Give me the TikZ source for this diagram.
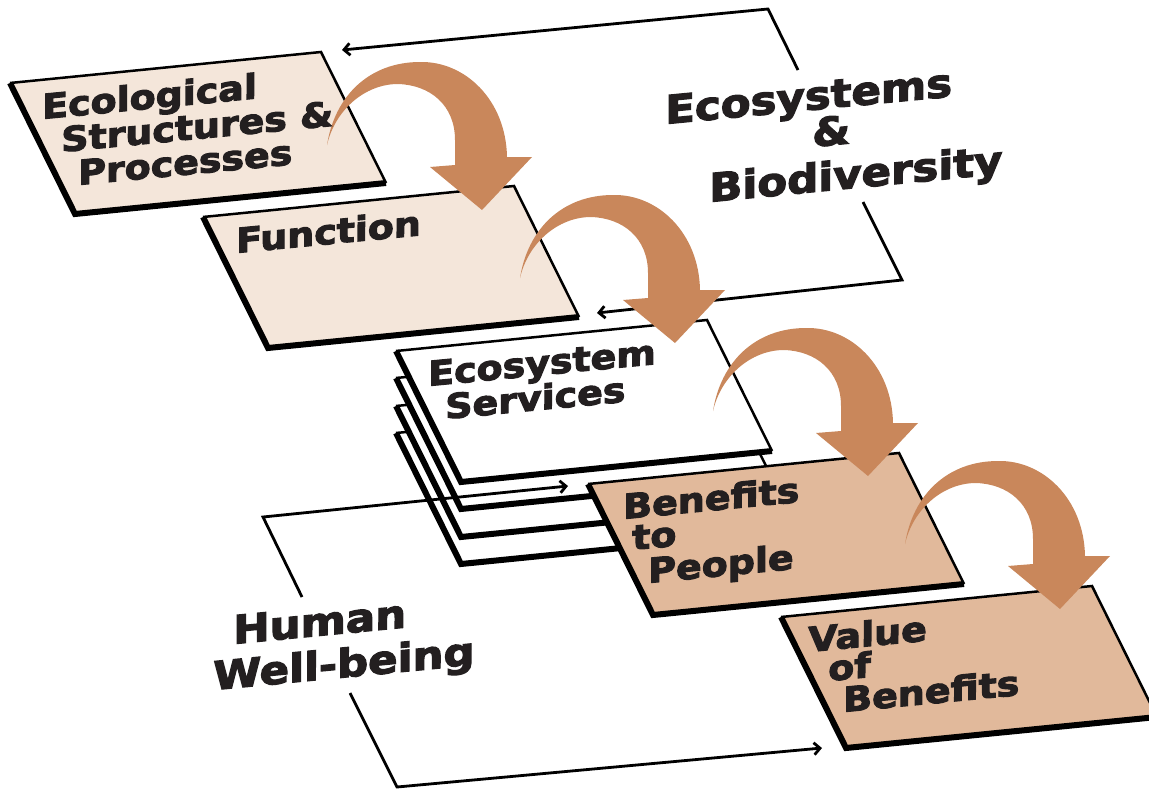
\documentclass[tikz,border=0pt]{standalone}
\usepackage{fontspec}
\setmainfont{DejaVu Sans}[BoldFeatures={FakeBold=3}]
\usetikzlibrary{arrows.meta}
\definecolor{lightfill}{HTML}{F4E6DA}
\definecolor{tanfill}{HTML}{E1B99B}
\definecolor{arrowc}{HTML}{C9875B}
\definecolor{ink}{HTML}{231F20}
\tikzset{
  boxtxt/.style={font=\bfseries\fontsize{34}{34}\selectfont, text=ink, inner sep=0pt,
    anchor=base west, rotate=5.5, xslant=0.1, xscale=1.12},
  bigtxt/.style={boxtxt, font=\bfseries\fontsize{39}{39}\selectfont},
  frameline/.style={line width=2.8pt, -{Straight Barb[length=6pt,width=12pt]}},
  pics/pbox/.style={code={
    \fill[#1] (0,0) -- (311,-31) -- (376,100) -- (65,131) -- cycle;
    \draw[line width=2.5pt] (0,0) -- (311,-31) -- (376,100);
    \draw[line width=6pt] (0,0) -- (65,131) -- (376,100);
  }},
  pics/bend/.style={code={
    \fill[arrowc] (0,0) .. controls (8,-50) and (43,-83) .. (93,-83)
      .. controls (138,-84) and (179,-45) .. (180,12) -- (205,12) -- (155,65)
      -- (103,22) -- (128,20) -- (128,-5) .. controls (128,-40) and (103,-60) .. (71,-61)
      .. controls (38,-61) and (8,-35) .. (0,0) -- cycle;
  }}
}
\begin{document}
\begin{tikzpicture}[x=1pt,y=-1pt,line join=miter]
\useasboundingbox (0,0) rectangle (1149,790);
% boxes 1-2
\pic at (10,83) {pbox=lightfill};
\pic at (203,217) {pbox=lightfill};
% stacked ecosystem services layers
\pic at (396,433) {pbox=white};
\pic at (396,406) {pbox=white};
\pic at (396,378) {pbox=white};
\pic at (396,351) {pbox=white};
% frames
\coordinate (eb1) at (798,70);
\coordinate (ebc1) at (768,9);
\coordinate (ebe1) at (342,50);
\coordinate (eb2) at (863,202);
\coordinate (ebc2) at (902,280);
\coordinate (ebe2) at (597,313);
\draw[frameline] (eb1) -- (ebc1) -- (ebe1);
\draw[frameline] (eb2) -- (ebc2) -- (ebe2);
\coordinate (hw1) at (302,597);
\coordinate (hwc1) at (263,517);
\coordinate (hwe1) at (568,486);
\coordinate (hw2) at (350,693);
\coordinate (hwc2) at (397,787);
\coordinate (hwe2) at (822,748);
\draw[frameline] (hw1) -- (hwc1) -- (hwe1);
\draw[frameline] (hw2) -- (hwc2) -- (hwe2);
% boxes 4-5
\pic at (588,484) {pbox=tanfill};
\pic at (781,617) {pbox=tanfill};
% curved arrows
\pic at (327,145) {bend};
\pic at (520,278) {bend};
\pic at (713,411) {bend};
\pic at (905,544) {bend};
% texts
\node[boxtxt] (t1a) at (42,119) {Ecological};
\node[boxtxt] (t1b) at (61,152) {Structures \&};
\node[boxtxt] (t1c) at (78,185) {Processes};
\node[boxtxt] (t2) at (236,253) {Function};
\node[boxtxt] (t3a) at (428,386) {Ecosystem};
\node[boxtxt] (t3b) at (445,419) {Services};
\node[boxtxt] (t4a) at (623,519) {Benefits};
\node[boxtxt] (t4b) at (632,550) {to};
\node[boxtxt] (t4c) at (648,583) {People};
\node[boxtxt] (t5a) at (808,652) {Value};
\node[boxtxt] (t5b) at (828,681) {of};
\node[boxtxt] (t5c) at (843,712) {Benefits};
\node[bigtxt] (eba) at (665,124) {Ecosystems};
\node[bigtxt] (ebb) at (812,147) {\&};
\node[bigtxt] (ebc) at (709,202) {Biodiversity};
\node[bigtxt] (hwa) at (233,644) {Human};
\node[bigtxt] (hwb) at (213,690) {Well-being};
\end{tikzpicture}
\end{document}
